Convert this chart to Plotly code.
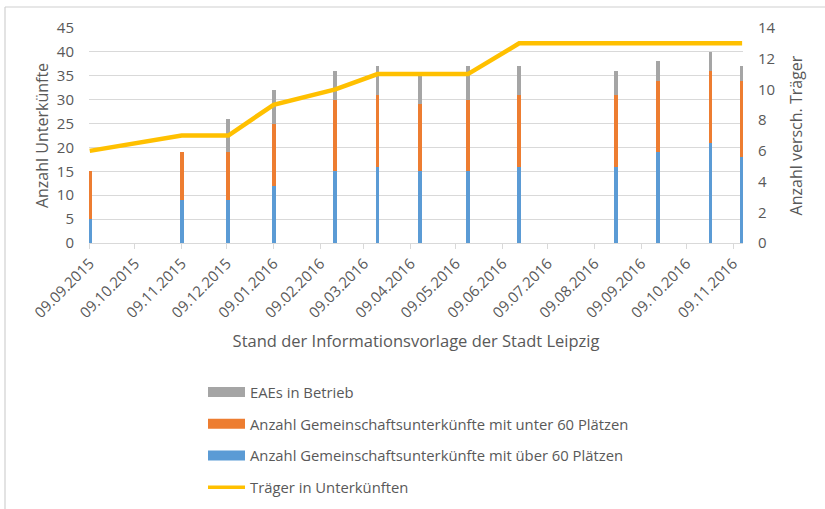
import plotly.graph_objects as go

dates = ["2015-09-09", "2015-11-09", "2015-12-10", "2016-01-09", "2016-02-19",
         "2016-03-18", "2016-04-15", "2016-05-17", "2016-06-20", "2016-08-23",
         "2016-09-20", "2016-10-25", "2016-11-15"]
ueber60 = [5, 9, 9, 12, 15, 16, 15, 15, 16, 16, 19, 21, 18]
unter60 = [10, 10, 10, 13, 15, 15, 14, 15, 15, 15, 15, 15, 16]
eaes = [0, 0, 7, 7, 6, 6, 6, 7, 6, 5, 4, 4, 3]
traeger = [6, 7, 7, 9, 10, 11, 11, 11, 13, 13, 13, 13, 13]

names = ["Anzahl Gemeinschaftsunterkünfte mit über 60 Plätzen",
         "Anzahl Gemeinschaftsunterkünfte mit unter 60 Plätzen",
         "EAEs in Betrieb",
         "Träger in Unterkünften"]
colors = ["#5b9bd5", "#ed7d31", "#a5a5a5", "#ffc000"]

FONT = "Open Sans"
TXT = "#595959"
GRID = "#d9d9d9"
BW = 2.6 * 86400000

fig = go.Figure()
for vals, name, col in zip([ueber60, unter60, eaes], names[:3], colors[:3]):
    fig.add_trace(go.Bar(x=dates, y=vals, width=BW, name=name, showlegend=False,
                         marker=dict(color=col, line=dict(width=0))))
fig.add_trace(go.Scatter(x=dates, y=traeger, name=names[3], mode="lines", showlegend=False,
                         line=dict(color=colors[3], width=4.5), yaxis="y2"))

# legend entries (wide swatches like the original)
ranks = [3, 2, 1, 4]
widths = [10, 10, 10, 3.5]
for name, col, rk, w in zip(names, colors, ranks, widths):
    fig.add_trace(go.Scatter(x=[None], y=[None], mode="lines", name=name,
                             line=dict(color=col, width=w), legendrank=rk,
                             legendgroup=name, showlegend=True))

W, H = 825, 509
L, R, T, B = 89, 82, 28, 266
pw, ph = W - L - R, H - T - B

def px_x(p):
    return (p - L) / pw

def px_y(p):
    return (H - B - p) / ph

fig.update_layout(
    width=W, height=H,
    margin=dict(l=L, r=R, t=T, b=B, autoexpand=False),
    barmode="stack",
    bargap=0,
    plot_bgcolor="white", paper_bgcolor="white",
    font=dict(family=FONT, color=TXT, size=14),
    xaxis=dict(
        type="date",
        range=["2015-09-08 12:00", "2016-11-15 14:00"],
        tick0="2015-09-09", dtick="M1", tickformat="%d.%m.%Y",
        tickangle=-45, tickfont=dict(size=15, color=TXT),
        showgrid=False, showline=True, linecolor=GRID, linewidth=1,
        ticks="outside", ticklen=5, tickcolor=GRID,
        title=dict(text="Stand der Informationsvorlage der Stadt Leipzig",
                   font=dict(size=16.5, color=TXT), standoff=14),
        automargin=False,
    ),
    yaxis=dict(
        range=[0, 45], dtick=5, showgrid=True, gridcolor=GRID, gridwidth=1,
        zeroline=False, showline=False, ticks="", ticklabelstandoff=14,
        tickfont=dict(size=15, color=TXT),
        title=dict(text="Anzahl Unterkünfte", font=dict(size=16, color=TXT), standoff=4),
        automargin=False,
    ),
    yaxis2=dict(
        range=[0, 14], dtick=2, overlaying="y", side="right", showgrid=False,
        zeroline=False, showline=False, ticks="", ticklabelstandoff=14,
        tickfont=dict(size=15, color=TXT),
        title=dict(text="Anzahl versch. Träger", font=dict(size=16, color=TXT), standoff=16),
        automargin=False,
    ),
    showlegend=True,
    legend=dict(
        x=px_x(203), y=px_y(376), xanchor="left", yanchor="top",
        orientation="v", traceorder="grouped", tracegroupgap=9.5,
        font=dict(size=14.8, color=TXT), itemwidth=37, bgcolor="rgba(0,0,0,0)",
    ),
    shapes=[
        dict(type="line", xref="paper", yref="paper", x0=px_x(5), x1=px_x(826),
             y0=px_y(7), y1=px_y(7), line=dict(color="#d0d0d0", width=1.2)),
        dict(type="line", xref="paper", yref="paper", x0=px_x(5), x1=px_x(5),
             y0=px_y(7), y1=px_y(510), line=dict(color="#d0d0d0", width=1.2)),
    ],
)

fig.write_html("out.html", config={"displayModeBar": False},
               post_script="document.body.style.margin='0';document.body.style.overflow='hidden';")
